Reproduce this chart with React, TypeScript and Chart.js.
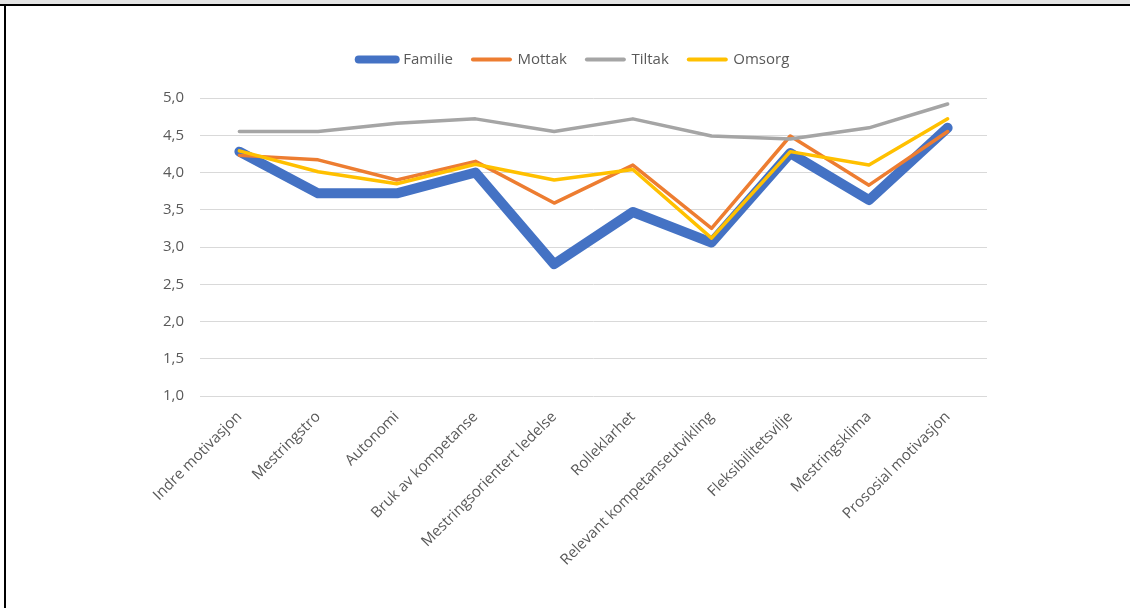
import React, { useEffect, useRef } from "react";
import { Chart, registerables } from "chart.js";

Chart.register(...registerables);

const categories = [
  "Indre motivasjon",
  "Mestringstro",
  "Autonomi",
  "Bruk av kompetanse",
  "Mestringsorientert ledelse",
  "Rolleklarhet",
  "Relevant kompetanseutvikling",
  "Fleksibilitetsvilje",
  "Mestringsklima",
  "Prososial motivasjon",
];

const familie = [4.28, 3.72, 3.72, 4.0, 2.77, 3.47, 3.06, 4.26, 3.63, 4.6];
const mottak = [4.23, 4.17, 3.9, 4.15, 3.59, 4.1, 3.25, 4.49, 3.83, 4.55];
const tiltak = [4.55, 4.55, 4.66, 4.72, 4.55, 4.72, 4.49, 4.45, 4.6, 4.92];
const omsorg = [4.29, 4.01, 3.85, 4.11, 3.9, 4.04, 3.12, 4.28, 4.1, 4.72];

const yTicks = [1.0, 1.5, 2.0, 2.5, 3.0, 3.5, 4.0, 4.5, 5.0];

const FONT = "'Open Sans', sans-serif";
const TEXT = "#595959";

const legendGap = {
  id: "legendGap",
  beforeInit(chart: any) {
    const lg = chart.legend;
    if (!lg) return;
    const orig = lg.fit;
    lg.fit = function () {
      orig.call(this);
      this.height += 21;
    };
  },
  afterLayout(chart: any) {
    const lg = chart.legend;
    if (!lg) return;
    lg.left += 7;
    lg.right += 7;
  },
};

export default function App() {
  const canvasRef = useRef<HTMLCanvasElement | null>(null);

  useEffect(() => {
    const canvas = canvasRef.current;
    if (!canvas) return;
    const mk = (label: string, data: number[], color: string, width: number, order: number) => ({
      label,
      data,
      borderColor: color,
      backgroundColor: color,
      borderWidth: width,
      pointRadius: 0,
      pointHoverRadius: 0,
      borderJoinStyle: "round" as const,
      borderCapStyle: "round" as const,
      tension: 0,
      fill: false,
      order,
    });
    const chart = new Chart(canvas, {
      type: "line",
      plugins: [legendGap],
      data: {
        labels: categories,
        datasets: [
          mk("Familie", familie, "#4472C4", 10, 4),
          mk("Mottak", mottak, "#ED7D31", 3.5, 3),
          mk("Tiltak", tiltak, "#A5A5A5", 3.5, 2),
          mk("Omsorg", omsorg, "#FFC000", 3.5, 1),
        ],
      },
      options: {
        animation: false,
        responsive: false,
        maintainAspectRatio: false,
        layout: { padding: { left: 141, right: 143, top: 26, bottom: 27 } },
        plugins: {
          tooltip: { enabled: false },
          legend: {
            display: true,
            position: "top",
            labels: {
              usePointStyle: true,
              pointStyle: "line",
              pointStyleWidth: 37,
              color: TEXT,
              font: { family: FONT, size: 15 },
              padding: 20,
              sort: (a: any, b: any) => a.datasetIndex - b.datasetIndex,
              generateLabels: (ch: any) => {
                const items = Chart.defaults.plugins.legend.labels.generateLabels(ch);
                items.forEach((it: any) => {
                  it.lineWidth = it.datasetIndex === 0 ? 8 : 4;
                  it.lineCap = "round";
                });
                return items;
              },
            },
          },
        },
        scales: {
          x: {
            offset: true,
            grid: { display: false, drawTicks: false },
            border: { display: false },
            ticks: {
              color: TEXT,
              font: { family: FONT, size: 15 },
              minRotation: 45,
              maxRotation: 45,
              autoSkip: false,
              padding: 12,
            },
          },
          y: {
            min: 1,
            max: 5,
            afterBuildTicks: (scale: any) => {
              scale.ticks = yTicks.map((v) => ({ value: v }));
            },
            grid: { color: "#d9d9d9", lineWidth: 1, drawTicks: false },
            border: { display: false },
            ticks: {
              color: TEXT,
              font: { family: FONT, size: 15 },
              padding: 16,
              callback: (v: any) => Number(v).toFixed(1).replace(".", ","),
            },
          },
        },
      },
    });
    return () => chart.destroy();
  }, []);

  return (
    <div style={{ position: "absolute", left: 0, top: 0, width: 1130, height: 608, background: "#fff", overflow: "hidden" }}>
      <div style={{ position: "absolute", left: 0, top: 0, width: 1130, height: 4, background: "#e3e3e3" }} />
      <div style={{ position: "absolute", left: 0, top: 4, width: 1130, height: 2, background: "#000" }} />
      <div style={{ position: "absolute", left: 4, top: 4, width: 2, height: 604, background: "#000" }} />
      <canvas ref={canvasRef} width={1124} height={602} style={{ position: "absolute", left: 6, top: 6, width: 1124, height: 602 }} />
    </div>
  );
}
